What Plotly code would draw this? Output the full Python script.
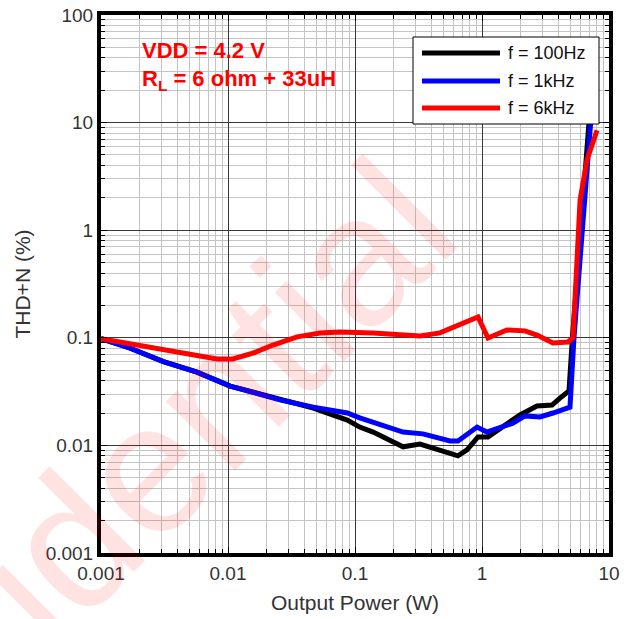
import plotly.graph_objects as go

# ---- data ----
x_100 = [0.001, 0.0017, 0.0031, 0.0057, 0.0104, 0.019, 0.026, 0.047, 0.087, 0.109, 0.139,
         0.239, 0.325, 0.59, 0.647, 0.762, 0.93, 1.115, 1.46, 1.99, 2.71, 3.56, 4.11, 4.84,
         5.15, 7.0]
y_100 = [0.098, 0.080, 0.060, 0.048, 0.0356, 0.0294, 0.0264, 0.0222, 0.0172, 0.0148, 0.0133,
         0.0097, 0.0103, 0.0081, 0.0080, 0.0091, 0.012, 0.012, 0.0148, 0.0192, 0.0232, 0.0237,
         0.0275, 0.032, 0.1, 11]

x_1k = [0.001, 0.0017, 0.0031, 0.0057, 0.0104, 0.019, 0.026, 0.047, 0.087, 0.109, 0.139,
        0.239, 0.343, 0.56, 0.647, 0.776, 0.914, 1.09, 1.39, 1.75, 2.18, 2.86, 3.62, 4.93,
        5.3, 7.08, 7.3]
y_1k = [0.098, 0.080, 0.060, 0.048, 0.0356, 0.0294, 0.0264, 0.0227, 0.020, 0.018, 0.0165,
        0.0133, 0.0128, 0.011, 0.011, 0.0130, 0.0148, 0.0133, 0.0145, 0.0161, 0.0188, 0.0184,
        0.020, 0.0227, 0.1, 9.1, 13]

x_6k = [0.001, 0.0017, 0.0023, 0.0031, 0.005, 0.0082, 0.0109, 0.0157, 0.0226, 0.035, 0.053,
        0.076, 0.139, 0.325, 0.467, 0.708, 0.93, 1.115, 1.57, 2.18, 2.71, 3.62, 4.75, 5.21,
        5.92, 6.71, 8.05]
y_6k = [0.098, 0.0875, 0.082, 0.077, 0.069, 0.0635, 0.0635, 0.072, 0.0857, 0.102, 0.111,
        0.113, 0.111, 0.104, 0.111, 0.137, 0.156, 0.0995, 0.118, 0.116, 0.106, 0.0895, 0.0914,
        0.1, 1.91, 4.49, 8.5]

series_names = ["f = 100Hz", "f = 1kHz", "f = 6kHz"]
series_colors = ["#000000", "#0000ff", "#ff0000"]

x_tickvals = [0.001, 0.01, 0.1, 1, 10]
x_ticktext = ["0.001", "0.01", "0.1", "1", "10"]
y_tickvals = [0.001, 0.01, 0.1, 1, 10, 100]
y_ticktext = ["0.001", "0.01", "0.1", "1", "10", "100"]

FONT = "Arial, Liberation Sans, sans-serif"

# plot area in pixels (for placing paper-referenced decorations)
L, R, T, B = 101, 609, 15, 553
def px(x):
    return (x - L) / (R - L)
def py(y):
    return (B - y) / (B - T)

fig = go.Figure()
for xs, ys, name, col in zip([x_100, x_1k, x_6k], [y_100, y_1k, y_6k], series_names, series_colors):
    fig.add_trace(go.Scatter(x=xs, y=ys, mode="lines", name=name, showlegend=False,
                             line=dict(color=col, width=5)))

axis_common = dict(
    type="log", automargin=False,
    showline=True, linewidth=4, linecolor="black", mirror="allticks",
    ticks="inside", ticklen=6, tickwidth=1, tickcolor="black",
    showgrid=True, gridcolor="#383838", gridwidth=1,
    tickfont=dict(family=FONT, size=19, color="#333333"),
    zeroline=False,
    minor=dict(dtick="D1", showgrid=True, gridcolor="#c4c4c4", gridwidth=1,
               ticks="inside", ticklen=4, tickcolor="black"),
)

fig.update_xaxes(**axis_common, range=[-3, 1], tickvals=x_tickvals, ticktext=x_ticktext,
                 title=dict(text="Output Power (W)", font=dict(family=FONT, size=21, color="#333333"),
                            standoff=14))
fig.update_yaxes(**axis_common, range=[-3, 2], tickvals=y_tickvals, ticktext=y_ticktext,
                 title=dict(text="THD+N (%)", font=dict(family=FONT, size=21, color="#333333"),
                            standoff=10))

# watermark
fig.add_annotation(text="Confidential", xref="paper", yref="paper", x=px(75), y=py(540),
                   xanchor="center", yanchor="middle",
                   showarrow=False, textangle=-45,
                   font=dict(family=FONT, size=185, color="rgba(255,0,0,0.11)"))

fig.add_annotation(text="<b>VDD = 4.2 V</b>", xref="paper", yref="paper",
                   x=px(140), y=py(50), xanchor="left", yanchor="middle",
                   showarrow=False, font=dict(family=FONT, size=22, color="#ff0000"))
fig.add_annotation(text="<b>R<sub>L</sub> = 6 ohm + 33uH</b>", xref="paper", yref="paper",
                   x=px(140), y=py(80), xanchor="left", yanchor="middle",
                   showarrow=False, font=dict(family=FONT, size=22, color="#ff0000"))

# legend box (drawn as a framed key)
fig.add_shape(type="rect", xref="paper", yref="paper",
              x0=px(413), x1=px(599), y0=py(124), y1=py(37),
              fillcolor="white", line=dict(color="black", width=1), layer="above")
row_y = [53, 81, 108]
for yy, name, col in zip(row_y, series_names, series_colors):
    fig.add_shape(type="line", xref="paper", yref="paper",
                  x0=px(422), x1=px(500), y0=py(yy), y1=py(yy),
                  line=dict(color=col, width=5), layer="above")
    fig.add_annotation(text=name, xref="paper", yref="paper", x=px(506), y=py(yy),
                       xanchor="left", yanchor="middle", showarrow=False,
                       font=dict(family=FONT, size=18, color="#111111"))

fig.update_layout(
    width=632, height=619,
    margin=dict(l=L, r=632 - R, t=T, b=619 - B),
    paper_bgcolor="white", plot_bgcolor="white",
    showlegend=False,
)

fig.write_html("out.html")
